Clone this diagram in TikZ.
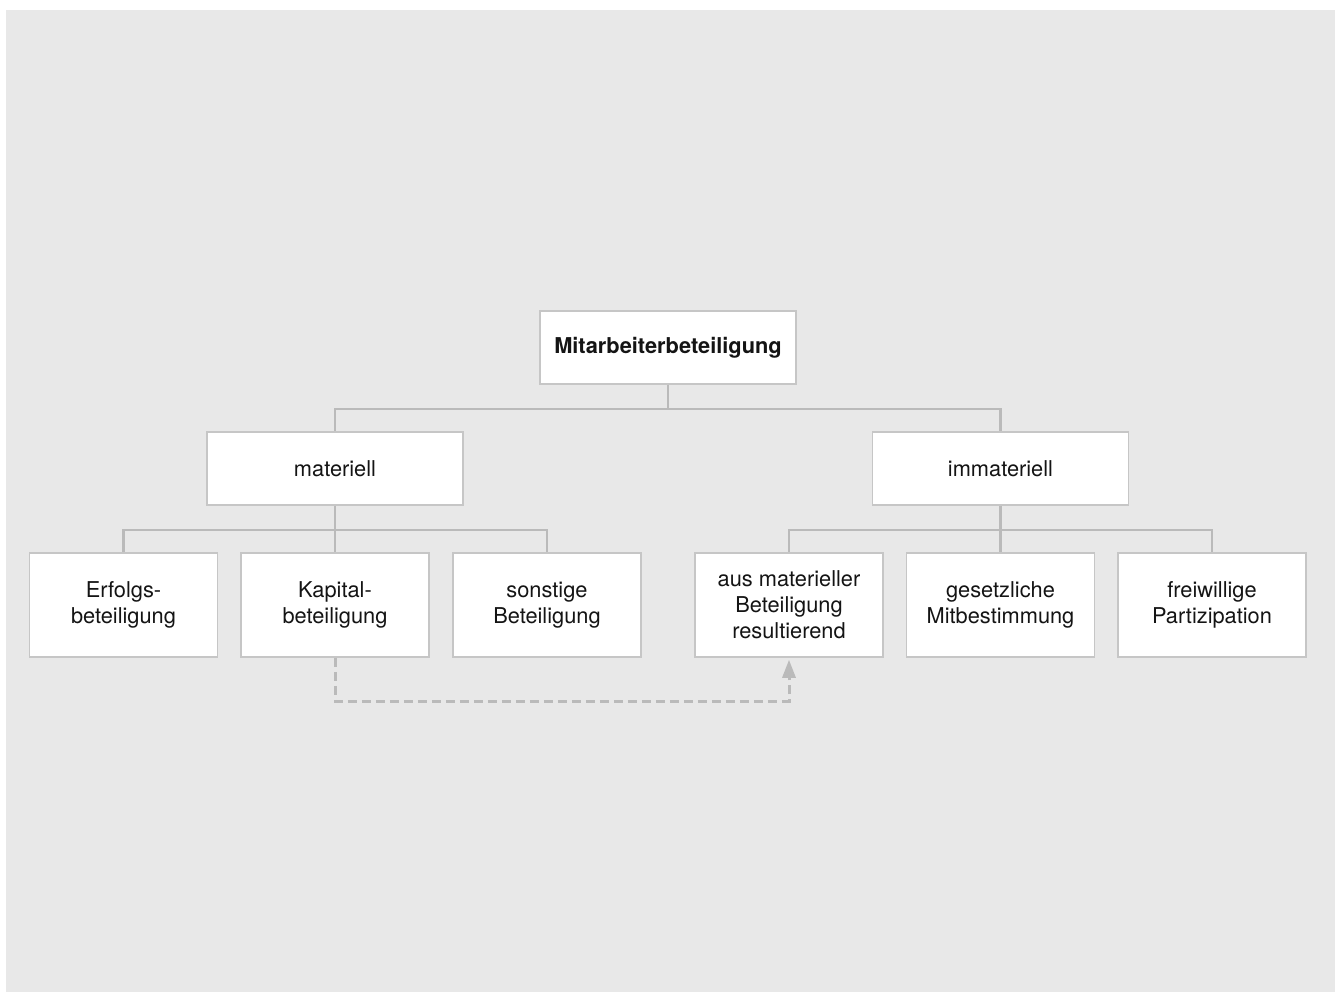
\documentclass[tikz,border=0pt]{standalone}
\usepackage{fontspec}
\setmainfont{TeX Gyre Heros}
\usetikzlibrary{arrows.meta}
\definecolor{bg}{HTML}{E8E8E8}
\definecolor{boxline}{HTML}{C6C6C6}
\definecolor{conn}{HTML}{BABABA}
\definecolor{txt}{HTML}{141414}
\tikzset{
  box/.style={draw=boxline, line width=0.75pt, fill=white, text=txt, align=center,
    font=\fontsize{10.9}{13}\selectfont, inner sep=0pt},
  topbox/.style={box, minimum width=128pt, minimum height=36.5pt},
  leafbox/.style={box, minimum width=94pt, minimum height=52pt},
  link/.style={draw=conn, line width=1.35pt},
  dashlink/.style={draw=conn, line width=1.5pt, dash pattern=on 4.5pt off 2.5pt,
    -{Triangle[width=6.5pt,length=9pt]}, shorten >=1pt}
}
\begin{document}
\begin{tikzpicture}[x=0.5pt,y=-0.5pt]
\useasboundingbox (0,0) rectangle (1335,992);
\fill[bg] (6,10) rectangle (1335,992);

\node[topbox, font=\fontsize{10.9}{13}\selectfont\bfseries] (root) at (668,347.5) {Mitarbeiterbeteiligung};
\node[topbox] (mat) at (335,468.5) {materiell};
\node[topbox] (imm) at (1000.5,468.5) {immateriell};

\node[leafbox] (erf) at (123.5,605) {Erfolgs-\\beteiligung};
\node[leafbox] (kap) at (335,605) {Kapital-\\beteiligung};
\node[leafbox] (son) at (547,605) {sonstige\\Beteiligung};
\node[leafbox] (aus) at (789,605) {aus materieller\\Beteiligung\\resultierend};
\node[leafbox] (ges) at (1000.5,605) {gesetzliche\\Mitbestimmung};
\node[leafbox] (fre) at (1212,605) {freiwillige\\Partizipation};

\coordinate (r1) at (668,409);
\coordinate (m1) at (335,530);
\coordinate (i1) at (1000.5,530);
\coordinate (d1) at (335,701);

\draw[link] (root.south) -- (r1);
\draw[link] (r1) -| (mat.north);
\draw[link] (r1) -| (imm.north);

\draw[link] (mat.south) -- (kap.north);
\draw[link] (m1) -| (erf.north);
\draw[link] (m1) -| (son.north);

\draw[link] (imm.south) -- (ges.north);
\draw[link] (i1) -| (aus.north);
\draw[link] (i1) -| (fre.north);

\draw[dashlink] (kap.south) -- (d1) -| (aus.south);
\end{tikzpicture}
\end{document}
